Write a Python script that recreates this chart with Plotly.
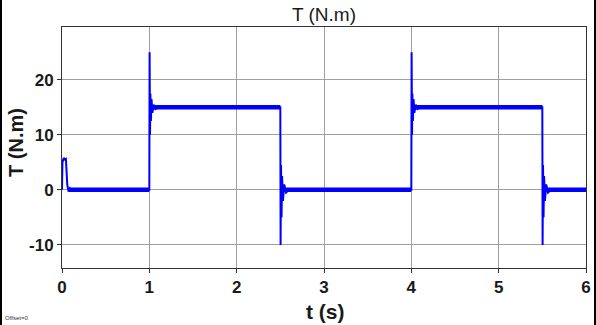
import plotly.graph_objects as go

# main torque trace (time in s, torque in N.m)
t_main = [0, 0.005, 0.02, 0.035, 0.045, 0.06, 0.075, 0.09, 0.11,
          1.0, 1.003, 1.008, 1.012, 1.018, 1.025, 1.035, 1.05, 1.07, 1.1,
          2.5, 2.503, 2.508, 2.514, 2.52, 2.53, 2.545, 2.565, 2.6,
          4.0, 4.003, 4.008, 4.012, 4.018, 4.025, 4.035, 4.05, 4.07, 4.1,
          5.5, 5.503, 5.508, 5.514, 5.52, 5.53, 5.545, 5.565, 5.6, 6.0]
T_main = [0, 5.0, 5.8, 5.5, 5.6, 1.0, -0.3, 0.3, 0,
          0, 25, 10, 17.5, 12.5, 16.5, 14, 15.5, 14.7, 15,
          15, -10, 4.5, -5, 2.5, -2, 1, -0.5, 0,
          0, 25, 10, 17.5, 12.5, 16.5, 14, 15.5, 14.7, 15,
          15, -10, 4.5, -5, 2.5, -2, 1, -0.5, 0, 0]

# ripple band on plateaus (thick envelope)
t_band = [0.08, 1.0, None, 1.02, 2.5, None, 2.56, 4.0, None, 4.02, 5.5, None, 5.56, 6.0]
T_band = [0, 0, None, 15, 15, None, 0, 0, None, 15, 15, None, 0, 0]

x_ticks = [0, 1, 2, 3, 4, 5, 6]
y_ticks = [-10, 0, 10, 20]
y_ticktext = ["-10", "0", "10", "20"]

blue = "#0000ff"
font_fam = "Arial, Liberation Sans, sans-serif"
txt = "#1a1a1a"

fig = go.Figure()
fig.add_trace(go.Scatter(x=t_band, y=T_band, mode="lines",
                         line=dict(color=blue, width=4.5), connectgaps=False,
                         hoverinfo="skip", showlegend=False))
fig.add_trace(go.Scatter(x=t_main, y=T_main, mode="lines",
                         line=dict(color=blue, width=2), showlegend=False))

axis_common = dict(showgrid=True, gridcolor="#a0a0a0", gridwidth=1,
                   showline=True, linecolor="#333333", linewidth=1, mirror=True,
                   ticks="outside", ticklen=4, tickcolor="#333333",
                   zeroline=False, automargin=False,
                   tickfont=dict(family=font_fam, size=17, color=txt, weight="bold"))

fig.update_xaxes(range=[0, 6], tickvals=x_ticks, **axis_common)
fig.update_yaxes(range=[-14.2, 29.6], tickvals=y_ticks, ticktext=y_ticktext, **axis_common)

PW, PH = 524, 241  # plot area in px
fig.update_layout(
    width=596, height=325,
    margin=dict(l=62, r=10, t=27, b=57),
    paper_bgcolor="white", plot_bgcolor="white",
    title=dict(text="T (N.m)", x=324 / 596, xanchor="center", y=1 - 14 / 325, yanchor="middle",
               font=dict(family=font_fam, size=19, color=txt)),
    shapes=[
        dict(type="line", xref="paper", yref="paper", x0=-61 / PW, x1=-61 / PW, y0=-57 / PH, y1=1 + 27 / PH,
             line=dict(color="black", width=2)),
        dict(type="line", xref="paper", yref="paper", x0=533 / PW, x1=533 / PW, y0=-57 / PH, y1=1 + 27 / PH,
             line=dict(color="black", width=2)),
    ],
    annotations=[
        dict(text="<b>t (s)</b>", xref="paper", yref="paper", x=(325 - 62) / PW, y=-(311 - 268) / PH,
             xanchor="center", yanchor="middle", showarrow=False,
             font=dict(family=font_fam, size=21, color=txt)),
        dict(text="<b>T (N.m)</b>", xref="paper", yref="paper", x=-(62 - 16) / PW, y=(268 - 143) / PH,
             xanchor="center", yanchor="middle", showarrow=False, textangle=-90,
             font=dict(family=font_fam, size=20, color=txt)),
        dict(text="Offset=0", xref="paper", yref="paper", x=-59 / PW, y=-50 / PH,
             xanchor="left", yanchor="middle", showarrow=False,
             font=dict(family=font_fam, size=6, color="#333333")),
    ],
)

fig.write_html("out.html")
